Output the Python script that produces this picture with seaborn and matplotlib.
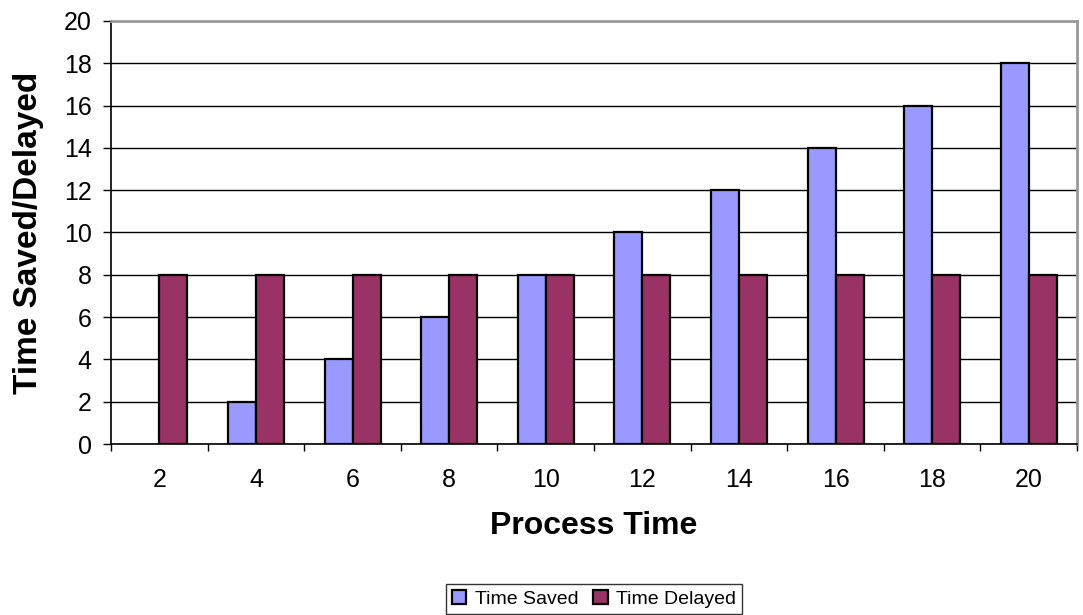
import numpy as np
import pandas as pd
import matplotlib
matplotlib.use("Agg")
import matplotlib.pyplot as plt
import seaborn as sns

# data
process_time = [2, 4, 6, 8, 10, 12, 14, 16, 18, 20]
time_saved   = [0, 2, 4, 6, 8, 10, 12, 14, 16, 18]
time_delayed = [8, 8, 8, 8, 8, 8, 8, 8, 8, 8]
series_names = ["Time Saved", "Time Delayed"]
colors       = ["#9999FF", "#993366"]

df = pd.DataFrame({
    "Process Time": process_time * 2,
    "value": time_saved + time_delayed,
    "series": [series_names[0]] * len(process_time) + [series_names[1]] * len(process_time),
})

sns.set_style("white")
plt.rcParams["font.family"] = ["Liberation Sans", "DejaVu Sans"]
plt.rcParams["text.color"] = "black"
plt.rcParams["axes.labelcolor"] = "black"
plt.rcParams["xtick.color"] = "black"
plt.rcParams["ytick.color"] = "black"

fig = plt.figure(figsize=(10.83, 6.15), dpi=100)
ax = fig.add_axes([0.1025, 0.278, 0.892, 0.688])

sns.barplot(
    data=df, x="Process Time", y="value", hue="series",
    hue_order=series_names, palette=colors, saturation=1, width=0.58, gap=0,
    edgecolor="black", linewidth=1.6, ax=ax, legend=True
)

# hide the outline of zero-height bars
for p in ax.patches:
    if p.get_height() == 0:
        p.set_linewidth(0)

ax.set_ylim(0, 20)
ax.set_xlim(-0.5, len(process_time) - 0.5)
ax.set_yticks(np.arange(0, 21, 2))
ax.yaxis.grid(True, color="black", linewidth=1)
ax.set_axisbelow(True)

# ticks: y outward, x only at category boundaries
ax.tick_params(axis="y", direction="out", length=6, width=1, labelsize=18, left=True, pad=8)
ax.tick_params(axis="x", which="major", length=0, labelsize=18, pad=17)
ax.set_xticks(np.arange(-0.5, len(process_time), 1), minor=True)
ax.tick_params(axis="x", which="minor", direction="out", length=5, width=1, bottom=True)

for side in ["left", "bottom"]:
    ax.spines[side].set_color("black")
    ax.spines[side].set_linewidth(1.2)
for side in ["top", "right"]:
    ax.spines[side].set_color("#999999")
    ax.spines[side].set_linewidth(2)

ax.set_xlabel("Process Time", fontsize=23, fontweight="bold", labelpad=14)
ax.set_ylabel("Time Saved/Delayed", fontsize=24, fontweight="bold", labelpad=14)

leg = ax.legend(
    loc="upper center", bbox_to_anchor=(0.5485, 0.0504), bbox_transform=fig.transFigure,
    ncol=2, frameon=True, fancybox=False, edgecolor="black", fontsize=14,
    handlelength=0.75, handleheight=0.75, handletextpad=0.45, columnspacing=0.75,
    borderpad=0.3, borderaxespad=0
)
leg.get_frame().set_linewidth(1)
for h in leg.legend_handles:
    h.set_edgecolor("black")
    h.set_linewidth(1.6)

fig.savefig("out.png", dpi=100)
